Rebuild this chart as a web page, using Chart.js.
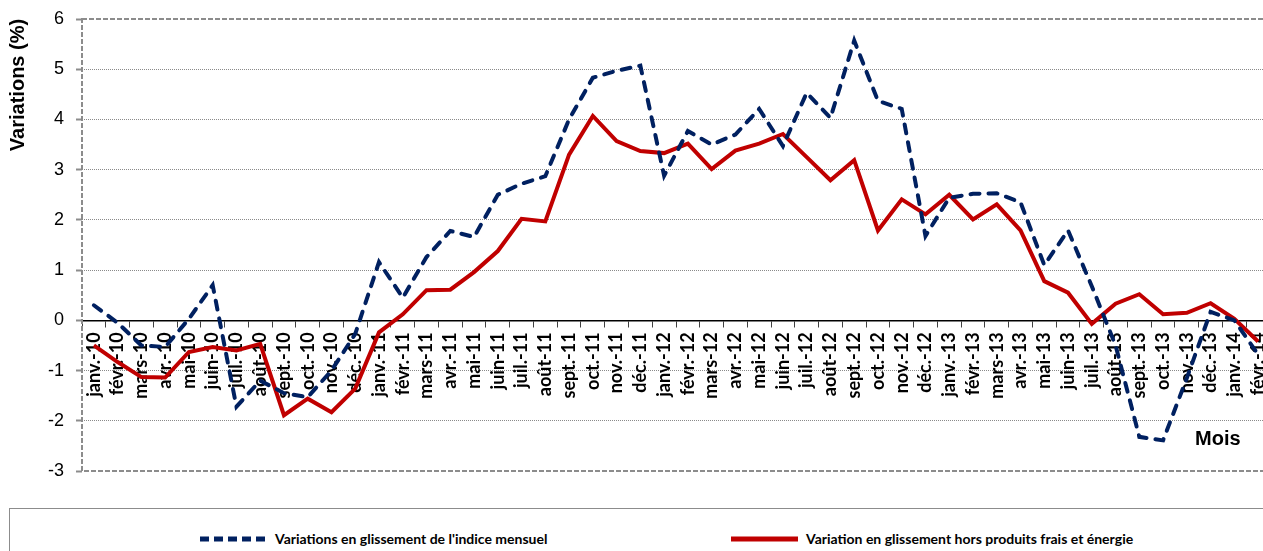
<!DOCTYPE html>
<html lang="fr">

<head>
    <meta charset="UTF-8">
    <title>Variations en glissement</title>
    <style>
        body {
            margin: 0;
            background: #ffffff;
            overflow: hidden;
            width: 1263px;
            height: 551px;
            position: relative;
        }

        .chart-box {
            position: absolute;
            left: 0;
            top: 0;
            width: 1270px;
            height: 490px;
        }

        .legend-box {
            position: absolute;
            left: 9px;
            top: 508px;
            width: 1270px;
            height: 60px;
            border: 1px solid #8c8c8c;
            box-sizing: border-box;
        }

        .legend-item {
            position: absolute;
            top: 21px;
            display: flex;
            align-items: center;
            font-family: 'Lato', sans-serif;
            font-weight: bold;
            font-size: 14px;
            color: #000;
            white-space: nowrap;
        }

        .legend-item svg {
            margin-right: 6px;
        }
    </style>
</head>

<body>

    <div class="chart-box">
        <canvas id="inflationChart" width="1270" height="490"></canvas>
    </div>
    <div class="legend-box" id="legend"></div>

    <script src="https://cdn.jsdelivr.net/npm/chart.js"></script>
    <script>
        // Months shown on the x axis
        const months = [
            'janv.-10', 'févr.-10', 'mars-10', 'avr.-10', 'mai-10', 'juin-10',
            'juil.-10', 'août-10', 'sept.-10', 'oct.-10', 'nov.-10', 'déc.-10',
            'janv.-11', 'févr.-11', 'mars-11', 'avr.-11', 'mai-11', 'juin-11',
            'juil.-11', 'août-11', 'sept.-11', 'oct.-11', 'nov.-11', 'déc.-11',
            'janv.-12', 'févr.-12', 'mars-12', 'avr.-12', 'mai-12', 'juin-12',
            'juil.-12', 'août-12', 'sept.-12', 'oct.-12', 'nov.-12', 'déc.-12',
            'janv.-13', 'févr.-13', 'mars-13', 'avr.-13', 'mai-13', 'juin-13',
            'juil.-13', 'août-13', 'sept.-13', 'oct.-13', 'nov.-13', 'déc.-13',
            'janv.-14', 'févr.-14'
        ];

        // Variations en glissement de l'indice mensuel (%)
        const indiceMensuel = [
            0.30, -0.05, -0.50, -0.53, 0.03, 0.70, -1.72, -1.20, -1.45, -1.53, -1.00, -0.27,
            1.16, 0.45, 1.26, 1.78, 1.66, 2.50, 2.72, 2.87, 4.00, 4.83, 4.97, 5.07,
            2.88, 3.77, 3.50, 3.70, 4.21, 3.47, 4.53, 4.03, 5.57, 4.37, 4.21, 1.68,
            2.44, 2.52, 2.53, 2.35, 1.10, 1.79, 0.68, -0.50, -2.32, -2.39, -1.15, 0.17,
            0.00, -0.68
        ];

        // Variation en glissement hors produits frais et énergie (%)
        const horsFraisEnergie = [
            -0.50, -0.83, -1.13, -1.14, -0.63, -0.53, -0.60, -0.47, -1.89, -1.56, -1.83, -1.36,
            -0.24, 0.12, 0.60, 0.61, 0.96, 1.38, 2.02, 1.97, 3.30, 4.07, 3.57, 3.37,
            3.33, 3.52, 3.01, 3.38, 3.52, 3.71, 3.25, 2.79, 3.19, 1.79, 2.41, 2.11,
            2.50, 2.01, 2.31, 1.79, 0.78, 0.55, -0.07, 0.33, 0.52, 0.12, 0.15, 0.34,
            0.03, -0.42
        ];

        const seriesLabels = [
            "Variations en glissement de l'indice mensuel",
            'Variation en glissement hors produits frais et énergie'
        ];

        const yTitle = 'Variations (%)';
        const xTitle = 'Mois';

        // Dashed frame around the plot area + axis titles
        const framePlugin = {
            id: 'frame',
            beforeDatasetsDraw(chart) {
                const { ctx, chartArea } = chart;
                ctx.save();
                ctx.strokeStyle = '#8c8c8c';
                ctx.lineWidth = 2;
                ctx.setLineDash([5, 2]);
                ctx.strokeRect(chartArea.left, chartArea.top, chartArea.right - chartArea.left, chartArea.bottom - chartArea.top);
                ctx.restore();
            },
            afterDraw(chart) {
                const ctx = chart.ctx;
                ctx.save();
                ctx.fillStyle = '#000';
                ctx.font = 'bold 20px "Liberation Sans", Arial, sans-serif';
                ctx.translate(18, 85);
                ctx.rotate(-Math.PI / 2);
                ctx.textAlign = 'center';
                ctx.textBaseline = 'middle';
                ctx.fillText(yTitle, 0, 0);
                ctx.restore();

                ctx.save();
                ctx.fillStyle = '#000';
                ctx.font = 'bold 20px "Liberation Sans", Arial, sans-serif';
                ctx.textAlign = 'left';
                ctx.textBaseline = 'alphabetic';
                ctx.fillText(xTitle, 1195, 445);
                ctx.restore();
            }
        };

        const ctx = document.getElementById('inflationChart').getContext('2d');
        const chart = new Chart(ctx, {
            type: 'line',
            data: {
                labels: months,
                datasets: [{
                    label: seriesLabels[0],
                    data: indiceMensuel,
                    borderColor: '#002060',
                    borderWidth: 4,
                    borderDash: [9, 9],
                    borderCapStyle: 'round',
                    pointRadius: 0,
                    tension: 0,
                    fill: false
                }, {
                    label: seriesLabels[1],
                    data: horsFraisEnergie,
                    borderColor: '#c00000',
                    borderWidth: 4,
                    pointRadius: 0,
                    tension: 0,
                    fill: false
                }]
            },
            options: {
                responsive: false,
                animation: false,
                layout: {
                    padding: { top: 19, right: 0, bottom: 19, left: 0 }
                },
                plugins: {
                    legend: { display: false },
                    tooltip: { enabled: false }
                },
                scales: {
                    x: {
                        position: { y: 0 },
                        offset: true,
                        afterFit(scale) {
                            // labels may hang past the right edge, like the original
                            scale.paddingLeft = 0;
                            scale.paddingRight = 0;
                        },
                        grid: {
                            offset: true,
                            drawOnChartArea: false,
                            drawTicks: true,
                            tickLength: 6,
                            tickColor: '#404040'
                        },
                        border: { display: true, color: '#000', width: 1.5 },
                        ticks: {
                            autoSkip: false,
                            maxRotation: 90,
                            minRotation: 90,
                            padding: 6,
                            color: '#000',
                            font: { family: 'Lato', weight: 'bold', size: 18 }
                        }
                    },
                    y: {
                        min: -3,
                        max: 6,
                        afterFit(scale) {
                            scale.width = 82;
                            scale.paddingTop = 0;
                            scale.paddingBottom = 0;
                        },
                        grid: {
                            color: (c) => {
                                const v = c.tick ? c.tick.value : null;
                                if (v === 6 || v === -3 || v === 0) return 'rgba(0,0,0,0)';
                                return '#8a8a8a';
                            },
                            lineWidth: 1,
                            tickLength: 6,
                            tickColor: '#8c8c8c',
                            tickWidth: 2
                        },
                        border: { display: false, dash: [1, 1] },
                        ticks: {
                            stepSize: 1,
                            padding: 12,
                            color: '#000',
                            font: { family: 'Liberation Sans', size: 18 }
                        }
                    }
                }
            },
            plugins: [framePlugin]
        });

        // Legend built from the datasets
        const legendLeft = [188, 719];
        const legend = document.getElementById('legend');
        chart.data.datasets.forEach((ds, i) => {
            const item = document.createElement('div');
            item.className = 'legend-item';
            item.style.left = legendLeft[i] + 'px';
            const dash = ds.borderDash ? 'stroke-dasharray="9 5"' : '';
            item.innerHTML = '<svg width="71" height="8"><line x1="2" y1="4" x2="69" y2="4" stroke="' +
                ds.borderColor + '" stroke-width="5" ' + dash + '/></svg>';
            const text = document.createElement('span');
            text.textContent = ds.label;
            item.appendChild(text);
            legend.appendChild(item);
        });
    </script>
</body>

</html>
